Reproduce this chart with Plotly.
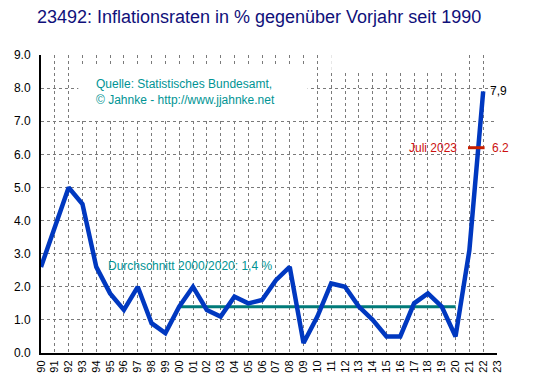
import plotly.graph_objects as go

years = list(range(1990, 2023))
inflation = [2.6, 3.8, 5.0, 4.5, 2.6, 1.8, 1.3, 2.0, 0.9, 0.6,
             1.4, 2.0, 1.3, 1.1, 1.7, 1.5, 1.6, 2.2, 2.6, 0.3,
             1.1, 2.1, 2.0, 1.4, 1.0, 0.5, 0.5, 1.5, 1.8, 1.4,
             0.5, 3.1, 7.9]
avg_years = [2000, 2020]
avg_values = [1.4, 1.4]
juli_x = [2020.9, 2022.1]
juli_y = [6.2, 6.2]
tick_years = list(range(1990, 2024))
tick_labels = [f"{y % 100:02d}" for y in tick_years]

FONT = "Liberation Sans, Arial, sans-serif"
TEAL_TXT = "#009494"

fig = go.Figure()
fig.add_trace(go.Scatter(x=avg_years, y=avg_values, mode="lines",
                         line=dict(color="#007A78", width=3), hoverinfo="skip"))
fig.add_trace(go.Scatter(x=years, y=inflation, mode="lines",
                         line=dict(color="#0038C0", width=4.5)))
fig.add_trace(go.Scatter(x=juli_x, y=juli_y, mode="lines",
                         line=dict(color="#C81E00", width=3)))

# white boxes (hide grid)
fig.add_shape(type="rect", xref="x", yref="y", x0=1992.7, x1=2009.3, y0=7.05, y1=8.7,
              fillcolor="white", line=dict(width=0), layer="between")
fig.add_shape(type="rect", xref="x", yref="y", x0=2011.0, x1=2020.2, y0=8.55, y1=9.05,
              fillcolor="white", line=dict(width=0), layer="between")

fig.add_annotation(x=1993.85, y=7.87, xref="x", yref="y", xanchor="left", yanchor="middle",
                   text="Quelle: Statistisches Bundesamt,<br>© Jahnke - http://www.jjahnke.net",
                   showarrow=False, align="left", font=dict(family=FONT, size=12, color=TEAL_TXT))
fig.add_annotation(x=1994.7, y=2.62, xref="x", yref="y", xanchor="left", yanchor="middle",
                   text="Durchschnitt 2000/2020: 1,4 %", showarrow=False,
                   font=dict(family=FONT, size=12, color=TEAL_TXT))
fig.add_annotation(x=years[-1], y=inflation[-1], xref="x", yref="y", xanchor="left", yanchor="middle",
                   xshift=5, text="7,9", showarrow=False,
                   font=dict(family=FONT, size=12, color="black"))
fig.add_annotation(x=juli_x[0], y=juli_y[0], xref="x", yref="y", xanchor="right", yanchor="middle",
                   xshift=-9, text="Juli 2023", showarrow=False,
                   font=dict(family=FONT, size=12, color="#CC1010"))
fig.add_annotation(x=juli_x[1], y=juli_y[1], xref="x", yref="y", xanchor="left", yanchor="middle",
                   xshift=5, text="6.2", showarrow=False,
                   font=dict(family=FONT, size=12, color="#CC1010"))

# page body has an 8px margin, so the figure is sized/offset to compensate
fig.update_layout(
    width=545, height=368,
    margin=dict(l=33, r=56, t=47, b=23, autoexpand=False),
    paper_bgcolor="white", plot_bgcolor="white",
    showlegend=False,
    title=dict(text="23492: Inflationsraten in % gegenüber Vorjahr seit 1990",
               x=0.053, xanchor="left", y=0.976, yanchor="middle",
               font=dict(family=FONT, size=18, color="#10107A")),
    font=dict(family=FONT, size=12, color="black"),
)
fig.update_xaxes(range=[1990, 2023], tickmode="array", tickvals=tick_years, ticktext=tick_labels,
                 tickangle=-90, tickfont=dict(family=FONT, size=11, color="black"),
                 showgrid=True, gridcolor="#7A7A7A", griddash="3px,3px", gridwidth=1,
                 showline=True, linecolor="black", linewidth=2, zeroline=False, ticks="",
                 ticklabelstandoff=1, automargin=False)
fig.update_yaxes(range=[0, 9], dtick=1, tickformat=".1f",
                 tickfont=dict(family=FONT, size=12, color="black"),
                 showgrid=True, gridcolor="#7A7A7A", griddash="3px,3px", gridwidth=1,
                 showline=True, linecolor="black", linewidth=2, zeroline=False, ticks="",
                 ticklabelstandoff=6, automargin=False)

fig.write_html("out.html")
